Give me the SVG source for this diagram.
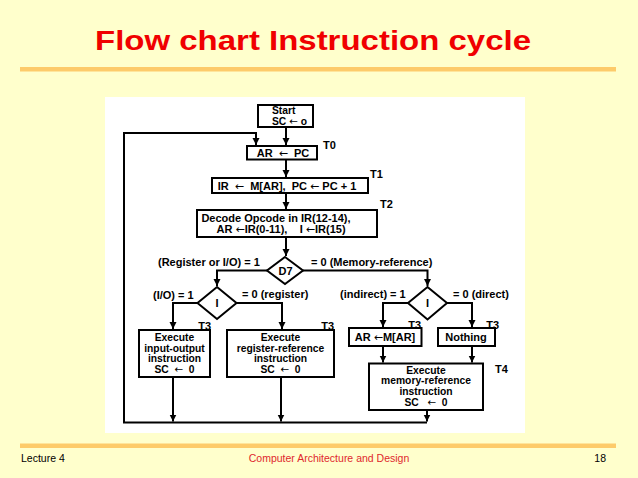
<svg xmlns="http://www.w3.org/2000/svg" width="638" height="478" viewBox="0 0 638 478">
<style>
.t{font-family:"Liberation Sans",Arial,"DejaVu Sans",sans-serif;font-weight:bold;font-size:11px;fill:#000}
.s{font-size:10.3px}
.a{font-family:"DejaVu Sans",sans-serif;font-weight:normal}
.c{text-anchor:middle}
.e{text-anchor:end}
.box{fill:#fff;stroke:#000;stroke-width:2}
.ln{fill:none;stroke:#000;stroke-width:2}
</style>
<defs>
<marker id="ah" markerUnits="userSpaceOnUse" markerWidth="8" markerHeight="8" refX="7" refY="4" orient="auto">
<path d="M0,0.5 L7,4 L0,7.5 Z" fill="#000"/>
</marker>
</defs>
<rect x="0" y="0" width="638" height="478" fill="#FFFFCC"/>
<text x="95" y="49.5" textLength="436" lengthAdjust="spacingAndGlyphs" style="font-family:'Liberation Sans',Arial,sans-serif;font-weight:bold;font-size:27px;fill:#F00000">Flow chart Instruction cycle</text>
<rect x="20" y="67" width="596" height="4.5" fill="#FDCB6A"/>
<rect x="105" y="97" width="420" height="336" fill="#FFFFFF"/>

<g id="connectors">
<path class="ln" d="M286,127 V145" marker-end="url(#ah)"/>
<path class="ln" d="M256,133 V145" marker-end="url(#ah)"/>
<path class="ln" d="M286,159.5 V177" marker-end="url(#ah)"/>
<path class="ln" d="M286,193 V209" marker-end="url(#ah)"/>
<path class="ln" d="M286,237 V256" marker-end="url(#ah)"/>
<path class="ln" d="M267,270.5 H217 V286" marker-end="url(#ah)"/>
<path class="ln" d="M303,270.5 H427.5 V286" marker-end="url(#ah)"/>
<path class="ln" d="M197.5,303 H173 V329" marker-end="url(#ah)"/>
<path class="ln" d="M236.5,303 H282 V329" marker-end="url(#ah)"/>
<path class="ln" d="M408,303 H383 V327" marker-end="url(#ah)"/>
<path class="ln" d="M447,303 H472 V327" marker-end="url(#ah)"/>
<path class="ln" d="M383,346 V362.5" marker-end="url(#ah)"/>
<path class="ln" d="M472,346 V362.5" marker-end="url(#ah)"/>
<path class="ln" d="M173,377 V421.5" marker-end="url(#ah)"/>
<path class="ln" d="M281,377 V421.5" marker-end="url(#ah)"/>
<path class="ln" d="M427,410 V421.5" marker-end="url(#ah)"/>
<path class="ln" d="M427,422.5 H124 V133 H257"/>
</g>

<g id="start">
<rect class="box" x="258" y="105" width="55" height="22"/>
<text class="t s" x="272" y="114">Start</text>
<text class="t s" x="272" y="124.5">SC <tspan class="a">←</tspan> o</text>
</g>
<g id="t0">
<rect class="box" x="247" y="146" width="70" height="13.5"/>
<text class="t c" x="283" y="157" xml:space="preserve">AR  <tspan class="a">←</tspan>  PC</text>
<text class="t" x="323" y="149">T0</text>
</g>
<g id="t1">
<rect class="box" x="212" y="178" width="156" height="15"/>
<text class="t c" x="287" y="189.5" xml:space="preserve">IR  <tspan class="a">←</tspan>  M[AR],  PC <tspan class="a">←</tspan> PC + 1</text>
<text class="t" x="370" y="178">T1</text>
</g>
<g id="t2">
<rect class="box" x="197" y="210" width="180" height="27"/>
<text class="t c" x="276" y="221.5">Decode Opcode in IR(12-14),</text>
<text class="t c" x="281" y="232.5" xml:space="preserve">AR <tspan class="a">←</tspan>IR(0-11),    I <tspan class="a">←</tspan>IR(15)</text>
<text class="t" x="380" y="208">T2</text>
</g>
<g id="d7">
<polygon class="box" points="285,257 303,270.5 285,284 267,270.5"/>
<text class="t c" x="285.5" y="275">D7</text>
<text class="t" x="158" y="266">(Register or I/O) = 1</text>
<text class="t" x="311" y="266">= 0 (Memory-reference)</text>
</g>
<g id="i-left">
<polygon class="box" points="217,287 236.5,303 217,319 197.5,303"/>
<text class="t c" x="217" y="307">I</text>
<text class="t" x="153" y="299">(I/O) = 1</text>
<text class="t" x="242" y="298">= 0 (register)</text>
</g>
<g id="i-right">
<polygon class="box" points="427.5,287 447,303 427.5,319.5 408,303"/>
<text class="t c" x="427.5" y="307">I</text>
<text class="t" x="340" y="297.5">(indirect) = 1</text>
<text class="t" x="453" y="297.5">= 0 (direct)</text>
</g>
<g id="exec-io">
<rect class="box" x="139" y="330" width="71" height="47"/>
<text class="t s c" x="174.5" y="341">Execute</text>
<text class="t s c" x="174.5" y="351.7">input-output</text>
<text class="t s c" x="174.5" y="362.3">instruction</text>
<text class="t s c" x="174.5" y="373" xml:space="preserve">SC  <tspan class="a">←</tspan>  0</text>
<text class="t e" x="211" y="330">T3</text>
</g>
<g id="exec-reg">
<rect class="box" x="227" y="330" width="107" height="47"/>
<text class="t s c" x="280.5" y="341">Execute</text>
<text class="t s c" x="280.5" y="351.7">register-reference</text>
<text class="t s c" x="280.5" y="362.3">instruction</text>
<text class="t s c" x="280.5" y="373" xml:space="preserve">SC  <tspan class="a">←</tspan>  0</text>
<text class="t e" x="334" y="330">T3</text>
</g>
<g id="indirect">
<rect class="box" x="349" y="328" width="72.5" height="18"/>
<text class="t c" x="385" y="341">AR <tspan class="a">←</tspan>M[AR]</text>
<text class="t e" x="421" y="329">T3</text>
</g>
<g id="direct">
<rect class="box" x="438" y="328" width="57" height="18"/>
<text class="t c" x="466" y="341">Nothing</text>
<text class="t e" x="499" y="329">T3</text>
</g>
<g id="exec-mem">
<rect class="box" x="369" y="363.5" width="114" height="46.5"/>
<text class="t s c" x="426" y="373.5">Execute</text>
<text class="t s c" x="426" y="384">memory-reference</text>
<text class="t s c" x="426" y="394.5">instruction</text>
<text class="t s c" x="426" y="405.5" xml:space="preserve">SC   <tspan class="a">←</tspan>  0</text>
<text class="t" x="495" y="373">T4</text>
</g>

<rect x="20" y="443.5" width="596" height="4.5" fill="#FDCB6A"/>
<g style="font-family:'Liberation Sans',Arial,sans-serif;font-size:10.5px">
<text x="21" y="462" fill="#000">Lecture 4</text>
<text x="329" y="462" fill="#E0282C" text-anchor="middle">Computer Architecture and Design</text>
<text x="606" y="462" fill="#000" text-anchor="end">18</text>
</g>
</svg>
